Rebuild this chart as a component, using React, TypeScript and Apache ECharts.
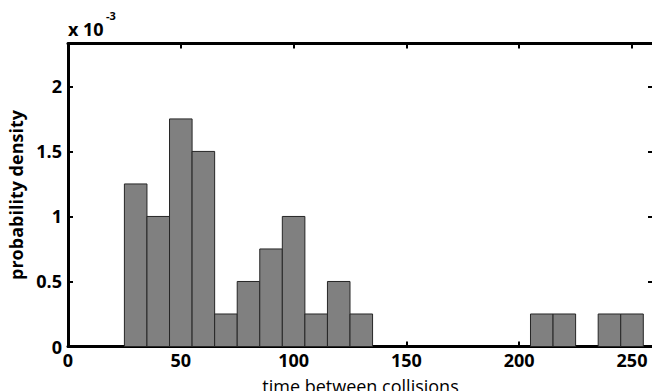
import React, { useEffect, useRef } from "react";
import * as echarts from "echarts";

const binStarts = [25, 35, 45, 55, 65, 75, 85, 95, 105, 115, 125, 205, 215, 235, 245];
const binWidth = 10;
const densities = [1.25e-3, 1.0e-3, 1.75e-3, 1.5e-3, 0.25e-3, 0.5e-3, 0.75e-3, 1.0e-3, 0.25e-3, 0.5e-3, 0.25e-3, 0.25e-3, 0.25e-3, 0.25e-3, 0.25e-3];
const xTitle = "time between collisions";
const yTitle = "probability density";
const FONT = "'Open Sans', 'DejaVu Sans', sans-serif";

export default function App() {
  const ref = useRef<HTMLDivElement>(null);
  useEffect(() => {
    if (!ref.current) return;
    const chart = echarts.init(ref.current, null, { renderer: "svg" });
    const data = binStarts.map((s, i) => [s, s + binWidth, densities[i]]);
    const fmtY = (v: number) => {
      const n = +(v * 1000).toFixed(3);
      return String(n);
    };
    const axisLineStyle = { color: "#000", width: 3 };
    const tickStyle = { color: "#000", width: 2 };
    chart.setOption({
      animation: false,
      grid: { left: 68, right: -1, top: 43.5, bottom: 44.5, containLabel: false, outerBoundsMode: "none" },
      xAxis: [
        {
          type: "value",
          min: 0,
          max: 259.3,
          interval: 50,
          position: "bottom",
          name: xTitle,
          nameLocation: "middle",
          nameGap: 30,
          nameTextStyle: { fontFamily: FONT, fontSize: 18, color: "#000" },
          axisLine: { show: true, onZero: false, lineStyle: axisLineStyle },
          axisTick: { show: true, inside: true, length: 5, lineStyle: tickStyle },
          axisLabel: {
            fontFamily: FONT,
            fontSize: 18,
            fontWeight: "bold",
            color: "#000",
            margin: 4,
            showMaxLabel: false,
            formatter: (v: number) => (v % 50 === 0 ? String(v) : ""),
          },
          splitLine: { show: false },
        },
        {
          type: "value",
          min: 0,
          max: 259.3,
          interval: 50,
          position: "top",
          axisLine: { show: true, onZero: false, lineStyle: axisLineStyle },
          axisTick: { show: true, inside: true, length: 5, lineStyle: tickStyle },
          axisLabel: { show: false },
          splitLine: { show: false },
        },
      ],
      yAxis: [
        {
          type: "value",
          min: 0,
          max: 2.33e-3,
          interval: 0.5e-3,
          position: "left",
          name: yTitle,
          nameLocation: "middle",
          nameGap: 31,
          nameTextStyle: { fontFamily: FONT, fontSize: 18, fontWeight: "bold", color: "#000" },
          axisLine: { show: true, onZero: false, lineStyle: axisLineStyle },
          axisTick: { show: true, inside: true, length: 5, lineStyle: tickStyle },
          axisLabel: {
            fontFamily: FONT,
            fontSize: 18,
            fontWeight: "bold",
            color: "#000",
            margin: 6,
            showMaxLabel: false,
            formatter: fmtY,
          },
          splitLine: { show: false },
        },
        {
          type: "value",
          min: 0,
          max: 2.33e-3,
          interval: 0.5e-3,
          position: "right",
          axisLine: { show: true, onZero: false, lineStyle: axisLineStyle },
          axisTick: { show: true, inside: true, length: 5, lineStyle: tickStyle },
          axisLabel: { show: false },
          splitLine: { show: false },
        },
      ],
      graphic: [
        {
          type: "text",
          left: 68,
          top: 20,
          style: { text: "x 10", fontFamily: FONT, fontSize: 18, fontWeight: "bold", fill: "#000" },
        },
        {
          type: "text",
          left: 106,
          top: 10,
          style: { text: "-3", fontFamily: FONT, fontSize: 11, fontWeight: "bold", fill: "#000" },
        },
      ],
      series: [
        {
          type: "custom",
          xAxisIndex: 0,
          yAxisIndex: 0,
          encode: { x: [0, 1], y: 2 },
          data,
          renderItem: (params: any, api: any) => {
            const p0 = api.coord([api.value(0), api.value(2)]);
            const p1 = api.coord([api.value(1), 0]);
            return {
              type: "rect",
              shape: { x: p0[0], y: p0[1], width: p1[0] - p0[0], height: p1[1] - p0[1] },
              style: { fill: "#808080", stroke: "#262626", lineWidth: 1 },
            };
          },
        },
      ],
    });
    return () => chart.dispose();
  }, []);
  return <div ref={ref} style={{ width: 652, height: 391, position: "absolute", left: 0, top: 0 }} />;
}
